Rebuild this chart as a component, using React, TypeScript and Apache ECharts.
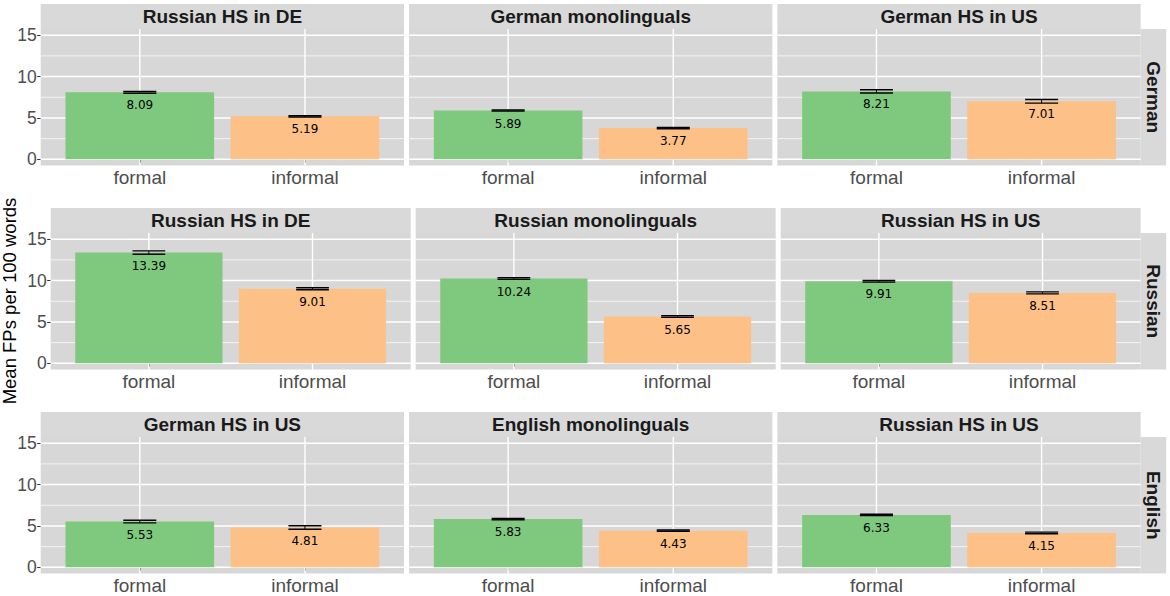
import React, { useEffect, useRef } from "react";
import * as echarts from "echarts";

const rowLanguages = ["German", "Russian", "English"];
const panelTitles = [
  ["Russian HS in DE", "German monolinguals", "German HS in US"],
  ["Russian HS in DE", "Russian monolinguals", "Russian HS in US"],
  ["German HS in US", "English monolinguals", "Russian HS in US"],
];
const categories = ["formal", "informal"];
const formalMeans = [8.09, 5.89, 8.21, 13.39, 10.24, 9.91, 5.53, 5.83, 6.33];
const informalMeans = [5.19, 3.77, 7.01, 9.01, 5.65, 8.51, 4.81, 4.43, 4.15];
const formalSE = [0.1, 0.07, 0.2, 0.2, 0.1, 0.1, 0.16, 0.08, 0.08];
const informalSE = [0.08, 0.07, 0.22, 0.12, 0.1, 0.12, 0.22, 0.07, 0.1];
const yTicks = [0, 5, 10, 15];
const yMinorTicks = [2.5, 7.5, 12.5];
const yTitle = "Mean FPs per 100 words";

const barColors = ["#7FC97F", "#FDC086"];

// layout (each row is its own plot; the middle row carries the y title and is narrower)
const ROW_LEFT = [40.7, 50.7, 40.7];
const PANELS_RIGHT = 1140.7;
const PANEL_GAP = 5;
const PANEL_TOP = [29, 233, 437];
const PANEL_H = 136.5;
const STRIP_H = 25;
const RSTRIP_W = 25.5;
const X_MIN = 0.4;
const X_MAX = 2.6;
const Y_MIN = -0.75;
const Y_MAX = 15.75;
const FONT = "Liberation Sans, Arial, sans-serif";

function buildOption() {
  const grids: any[] = [];
  const xAxes: any[] = [];
  const yAxes: any[] = [];
  const series: any[] = [];
  const graphics: any[] = [];

  for (let r = 0; r < 3; r++) {
    const pw = (PANELS_RIGHT - ROW_LEFT[r] - 2 * PANEL_GAP) / 3;
    for (let c = 0; c < 3; c++) {
      const i = r * 3 + c;
      const left = ROW_LEFT[r] + c * (pw + PANEL_GAP);
      grids.push({
        left,
        top: PANEL_TOP[r],
        width: pw,
        height: PANEL_H,
        show: true,
        backgroundColor: "#D7D7D7",
        borderWidth: 0,
        containLabel: false,
      });
      xAxes.push({
        type: "value",
        gridIndex: i,
        min: X_MIN,
        max: X_MAX,
        axisLine: { show: false },
        splitLine: { show: false },
        axisTick: {
          show: true,
          customValues: [1, 2],
          length: 3.5,
          lineStyle: { color: "#333333", width: 1 },
        },
        axisLabel: {
          show: true,
          customValues: [1, 2],
          formatter: (v: number) => categories[Math.round(v) - 1] ?? "",
          fontSize: 19,
          fontFamily: FONT,
          color: "#4D4D4D",
          margin: 2,
        },
      });
      yAxes.push({
        type: "value",
        gridIndex: i,
        min: Y_MIN,
        max: Y_MAX,
        axisLine: { show: false },
        splitLine: { show: false },
        axisTick: {
          show: c === 0,
          customValues: yTicks,
          length: 3.5,
          lineStyle: { color: "#333333", width: 1 },
        },
        axisLabel: {
          show: c === 0,
          customValues: yTicks,
          fontSize: 17.5,
          fontFamily: FONT,
          color: "#4D4D4D",
          margin: 4,
        },
      });

      // grid lines
      const gridData: number[][] = [
        ...yMinorTicks.map((v) => [0, v, 0.7]),
        ...yTicks.map((v) => [0, v, 1.4]),
        ...[1, 2].map((v) => [1, v, 1.4]),
      ];
      series.push({
        type: "custom",
        xAxisIndex: i,
        yAxisIndex: i,
        silent: true,
        z: 1,
        data: gridData,
        encode: { x: 1, y: 1 },
        renderItem: (_p: any, api: any) => {
          const kind = api.value(0);
          const v = api.value(1);
          const w = api.value(2);
          let p1, p2;
          if (kind === 0) {
            p1 = api.coord([X_MIN, v]);
            p2 = api.coord([X_MAX, v]);
          } else {
            p1 = api.coord([v, Y_MIN]);
            p2 = api.coord([v, Y_MAX]);
          }
          return {
            type: "line",
            shape: { x1: p1[0], y1: p1[1], x2: p2[0], y2: p2[1] },
            style: { stroke: "#FFFFFF", lineWidth: w },
          };
        },
      });

      // bars + error bars + labels
      const barData = [
        [1, formalMeans[i], formalSE[i]],
        [2, informalMeans[i], informalSE[i]],
      ];
      series.push({
        type: "custom",
        xAxisIndex: i,
        yAxisIndex: i,
        z: 2,
        data: barData,
        encode: { x: 0, y: 1 },
        renderItem: (params: any, api: any) => {
          const x = api.value(0);
          const m = api.value(1);
          const se = api.value(2);
          const base = api.coord([x, 0]);
          const top = api.coord([x, m]);
          const bw = api.size([0.9, 0])[0];
          const cw = api.size([0.2, 0])[0];
          const hi = api.coord([x, m + se])[1];
          const lo = api.coord([x, m - se])[1];
          const cx = base[0];
          return {
            type: "group",
            children: [
              {
                type: "rect",
                shape: { x: cx - bw / 2, y: top[1], width: bw, height: base[1] - top[1] },
                style: { fill: barColors[params.dataIndex] },
              },
              {
                type: "line",
                shape: { x1: cx, y1: hi, x2: cx, y2: lo },
                style: { stroke: "#000000", lineWidth: 1 },
              },
              {
                type: "line",
                shape: { x1: cx - cw / 2, y1: hi, x2: cx + cw / 2, y2: hi },
                style: { stroke: "#000000", lineWidth: 1.4 },
              },
              {
                type: "line",
                shape: { x1: cx - cw / 2, y1: lo, x2: cx + cw / 2, y2: lo },
                style: { stroke: "#000000", lineWidth: 1.4 },
              },
              {
                type: "text",
                x: cx,
                y: top[1] + 13,
                style: {
                  text: m.toFixed(2),
                  align: "center",
                  verticalAlign: "middle",
                  fontSize: 12,
                  fontFamily: "DejaVu Sans, sans-serif",
                  fill: "#000000",
                },
              },
            ],
          };
        },
      });

      // top strip
      graphics.push({
        type: "rect",
        shape: { x: left, y: PANEL_TOP[r] - STRIP_H, width: pw, height: STRIP_H },
        style: { fill: "#D9D9D9" },
        silent: true,
      });
      graphics.push({
        type: "text",
        x: left + pw / 2,
        y: PANEL_TOP[r] - STRIP_H / 2,
        style: {
          text: panelTitles[r][c],
          align: "center",
          verticalAlign: "middle",
          fontSize: 19,
          fontWeight: "bold",
          fontFamily: FONT,
          fill: "#1A1A1A",
        },
        silent: true,
      });
    }
    // right strip
    const rx = PANELS_RIGHT;
    graphics.push({
      type: "rect",
      shape: { x: rx, y: PANEL_TOP[r], width: RSTRIP_W, height: PANEL_H },
      style: { fill: "#D9D9D9" },
      silent: true,
    });
    graphics.push({
      type: "text",
      x: rx + RSTRIP_W / 2,
      y: PANEL_TOP[r] + PANEL_H / 2,
      rotation: -Math.PI / 2,
      style: {
        text: rowLanguages[r],
        align: "center",
        verticalAlign: "middle",
        fontSize: 19,
        fontWeight: "bold",
        fontFamily: FONT,
        fill: "#1A1A1A",
      },
      silent: true,
    });
  }

  graphics.push({
    type: "text",
    x: 9,
    y: 301,
    rotation: Math.PI / 2,
    style: {
      text: yTitle,
      align: "center",
      verticalAlign: "middle",
      fontSize: 18.5,
      fontFamily: FONT,
      fill: "#000000",
    },
    silent: true,
  });

  return {
    animation: false,
    backgroundColor: "#FFFFFF",
    grid: grids,
    xAxis: xAxes,
    yAxis: yAxes,
    series,
    graphic: { elements: graphics },
  };
}

export default function App() {
  const ref = useRef<HTMLDivElement>(null);
  useEffect(() => {
    document.body.style.margin = "0";
    if (!ref.current) return;
    const chart = echarts.init(ref.current, null, { renderer: "svg" });
    chart.setOption(buildOption() as any);
    return () => chart.dispose();
  }, []);
  return <div ref={ref} style={{ width: 1170, height: 596 }} />;
}
